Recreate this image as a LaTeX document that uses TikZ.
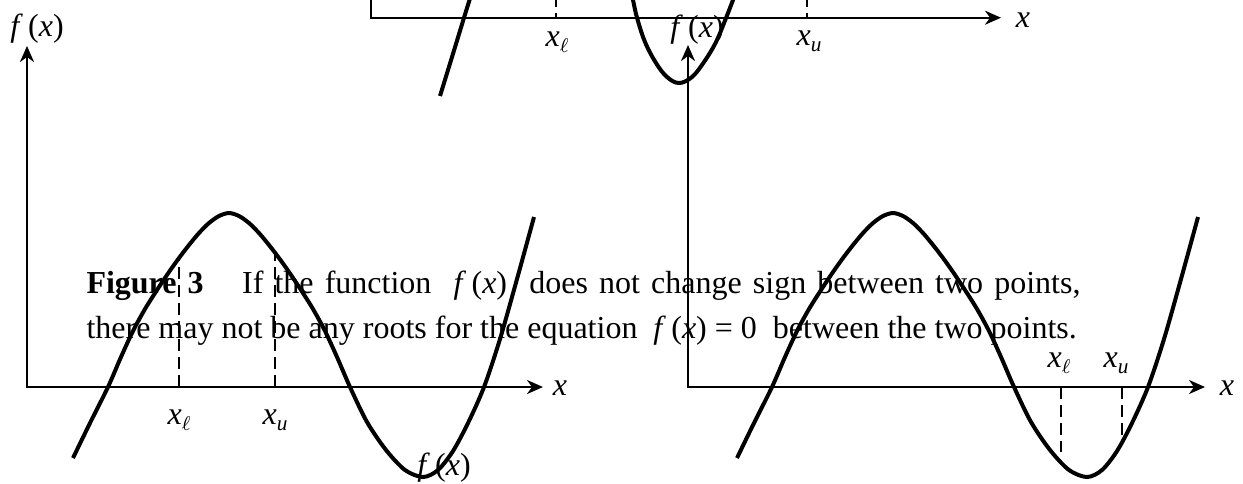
\documentclass[tikz,border=0pt]{standalone}
\usepackage{fontspec}
\setmainfont{Liberation Serif}
\usetikzlibrary{arrows.meta}
\newcommand{\fx}{\textit{f}\,(\textit{x})}
\newcommand{\lowsub}[1]{\raisebox{-0.45ex}{\fontsize{8.5pt}{9pt}\selectfont #1}}
\newcommand{\xl}{\textit{x}\lowsub{$\ell$}}
\newcommand{\xu}{\textit{x}\lowsub{\textit{u}}}
\newcommand{\wave}{plot[smooth, tension=0.5] coordinates {(73,458) (90,423) (108,387) (121,357) (133,331) (145,309) (157,290) (169,272) (179,258) (189,245) (199,233) (209,223) (219,216) (229,213) (239,216) (249,223) (259,233) (269,245) (279,258) (289,272) (301,290) (313,309) (325,331) (337,357) (350,387) (367,422) (386,450) (405,470) (423,477) (438,470) (453,451) (468,423) (484,387) (500,339) (517,279) (534,217)}}

\begin{document}
\begin{tikzpicture}[
    x=0.4pt, y=-0.4pt,
    every node/.style={inner sep=0pt, font=\fontsize{12.8pt}{15pt}\selectfont},
    axis/.style={line width=0.9pt, {Stealth[length=6.4pt,width=5.6pt,inset=2pt]}-{Stealth[length=6.4pt,width=5.6pt,inset=2pt]}},
    axisone/.style={line width=0.9pt, -{Stealth[length=6.4pt,width=5.6pt,inset=2pt]}},
    curve/.style={line width=1.6pt},
    guide/.style={line width=0.8pt, dash pattern=on 4.8pt off 2.4pt},
    lab/.style={anchor=base}
]
\useasboundingbox (0,0) rectangle (1243,483);
\clip (0,0) rectangle (1243,483);

% top graph, cut off
\draw[axisone] (371,-5) -- (371,17.7) -- (1001,17.7);
\draw[guide] (556,-5) -- (556,17.7);
\draw[guide] (807,-5) -- (807,17.7);
\draw[curve] plot[smooth] coordinates {(440,96) (452,57) (464,17.7) (472,-8)};
\draw[curve] plot[smooth, tension=0.6] coordinates {(631,-8) (633,0) (637,17.7) (645,42) (656,63) (667,77) (679,83) (692,77) (704,62) (716,42) (726,18) (733,0) (736,-8)};
\node[lab] (xlT) at (557,46) {\xl};
\node[lab] (xuT) at (809,45) {\xu};
\node[lab] (xT) at (1023,27) {\textit{x}};

% left graph
\draw[axis] (27,46) -- (27,387) -- (543,387);
\draw[guide] (179,387) -- (179,258);
\draw[guide] (275,387) -- (275,253);
\draw[curve] \wave;
\node[lab] (fL) at (37,36) {\fx};
\node[lab] (xL) at (560,395) {\textit{x}};
\node[lab] (xlL) at (179,424) {\xl};
\node[lab] (xuL) at (275,424) {\xu};
\node[lab] (fminL) at (444,475) {\fx};

% right graph
\draw[axis] (688,45) -- (688,387) -- (1205,387);
\draw[guide] (1061,387) -- (1061,452);
\draw[guide] (1122,387) -- (1122,443);
\draw[curve, shift={(664,0)}] \wave;
\node[lab] (fR) at (697,37) {\fx};
\node[lab] (xR) at (1227,395) {\textit{x}};
\node[lab] (xlR) at (1059,367) {\xl};
\node[lab] (xuR) at (1116,367) {\xu};

% caption
\node[anchor=base west] (capA) at (86,293) {\makebox[397.6pt][s]{\textbf{Figure 3}\hspace{1.2em}If the function \ \fx{} \ does not change sign between two points,}};
\node[anchor=base west] (capB) at (86,338) {there may not be any roots for the equation \ \fx{} = 0 \ between the two points.};
\end{tikzpicture}
\end{document}
